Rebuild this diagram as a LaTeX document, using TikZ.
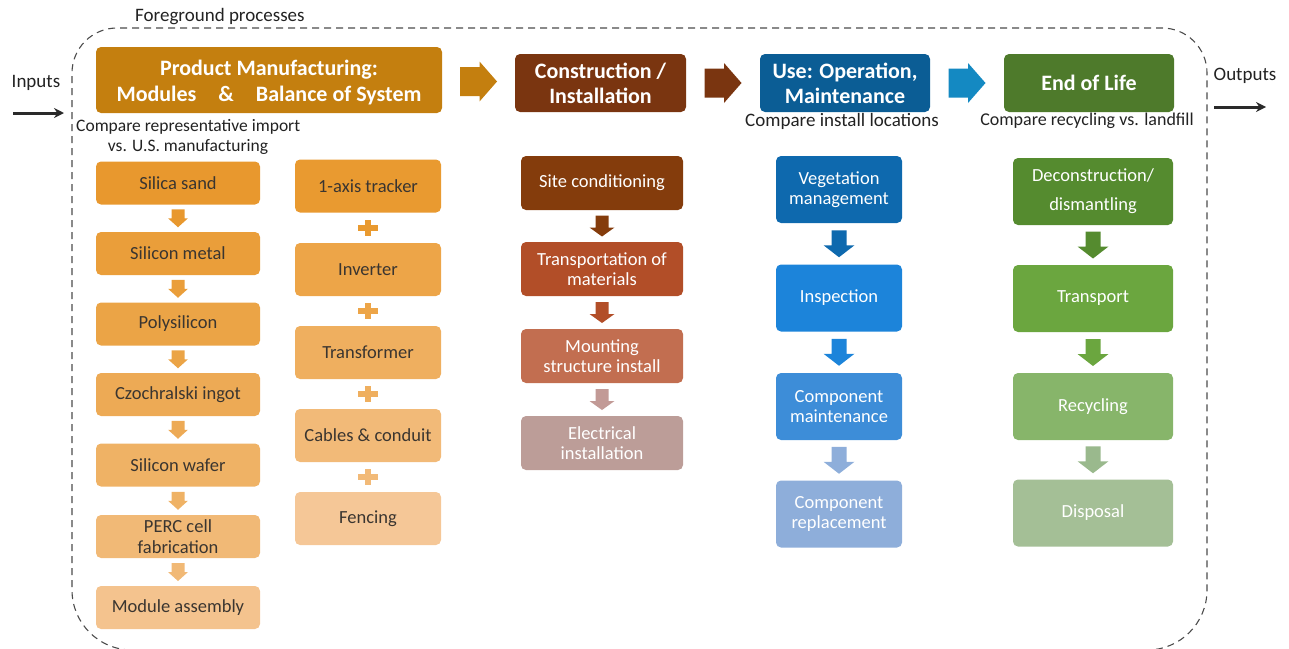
\documentclass[tikz,border=0pt]{standalone}
\usepackage{fontspec}
\setmainfont{Carlito}
\usetikzlibrary{calc,arrows.meta}
\definecolor{txtdark}{HTML}{3A3530}
\definecolor{lbl}{HTML}{222222}
\definecolor{arr}{HTML}{2A2A2A}
\definecolor{cPM}{HTML}{C47F0F}
\definecolor{cCI}{HTML}{7A3510}
\definecolor{cUse}{HTML}{0B5D95}
\definecolor{cUseA}{HTML}{1489C2}
\definecolor{cEoL}{HTML}{4E7A2B}
\definecolor{oA}{HTML}{E8982E}
\definecolor{oB}{HTML}{EA9E3A}
\definecolor{oC}{HTML}{EBA446}
\definecolor{oD}{HTML}{EDAA55}
\definecolor{oE}{HTML}{EFB265}
\definecolor{oF}{HTML}{F1B976}
\definecolor{oG}{HTML}{F4C38E}
\definecolor{pA}{HTML}{E99A30}
\definecolor{pB}{HTML}{EDA548}
\definecolor{pC}{HTML}{EFAF5F}
\definecolor{pD}{HTML}{F2BA78}
\definecolor{pE}{HTML}{F5C797}
\definecolor{bA}{HTML}{843C0C}
\definecolor{bB}{HTML}{B24E28}
\definecolor{bC}{HTML}{C26E50}
\definecolor{bD}{HTML}{BC9D98}
\definecolor{bDa}{HTML}{C29A96}
\definecolor{uA}{HTML}{0E69AE}
\definecolor{uB}{HTML}{1C84DA}
\definecolor{uC}{HTML}{3D8DD8}
\definecolor{uD}{HTML}{8EAEDA}
\definecolor{gA}{HTML}{558B2F}
\definecolor{gB}{HTML}{6BA63F}
\definecolor{gC}{HTML}{87B56A}
\definecolor{gD}{HTML}{A4BF96}
\definecolor{gDa}{HTML}{9AB98D}
\newcommand\dnarrow[7]{% top node, bottom node, half length, shaft half width, head half width, head length, colour
  \coordinate (m) at ($(#1.south)!0.5!(#2.north)$);
  \fill[#7] ($(m)+(-#4,-#3)$) -- ($(m)+(#4,-#3)$) -- ($(m)+(#4,#3-#6)$) -- ($(m)+(#5,#3-#6)$)
     -- ($(m)+(0,#3)$) -- ($(m)+(-#5,#3-#6)$) -- ($(m)+(-#4,#3-#6)$) -- cycle;}
\newcommand\rtarrow[3]{% left node, right node, colour
  \coordinate (m) at ($(#1.east)!0.5!(#2.west)$);
  \fill[#3] ($(m)+(-18.5,-14.5)$) -- ($(m)+(1,-14.5)$) -- ($(m)+(1,-20)$) -- ($(m)+(18.5,0)$)
     -- ($(m)+(1,20)$) -- ($(m)+(1,14.5)$) -- ($(m)+(-18.5,14.5)$) -- cycle;}
\newcommand\plusmark[3]{% upper node, lower node, colour
  \coordinate (m) at ($(#1.south)!0.5!(#2.north)$);
  \fill[#3] ($(m)+(-10,-2.8)$) rectangle ($(m)+(10,2.8)$);
  \fill[#3] ($(m)+(-2.8,-7.8)$) rectangle ($(m)+(2.8,7.8)$);}
\begin{document}
\begin{tikzpicture}[x=1pt,y=-1pt,
  hdr/.style={rectangle, rounded corners=5pt, inner sep=2pt, align=center,
    font=\fontsize{22}{25}\selectfont\bfseries, text=white, minimum height=58pt, minimum width=170pt},
  item/.style={rectangle, rounded corners=5pt, inner sep=2pt, align=center,
    font=\fontsize{18.5}{20.5}\selectfont},
  c1/.style={item, text=txtdark, minimum width=164pt, minimum height=43pt},
  c2/.style={item, text=txtdark, minimum width=146pt, minimum height=53pt},
  c3/.style={item, text=white, minimum width=162pt, minimum height=54pt},
  c4/.style={item, text=white, minimum width=126pt, minimum height=67pt},
  c5/.style={item, text=white, minimum width=160pt, minimum height=67pt},
  lab/.style={font=\fontsize{19}{22}\selectfont, text=lbl, inner sep=0pt},
  sub/.style={font=\fontsize{17.5}{20}\selectfont, text=lbl, inner sep=0pt},
  iolink/.style={draw=arr, line width=3pt, arrows={-Stealth[length=10pt,width=10pt]}},
  dashbox/.style={draw=black!70, line width=1.1pt, dash pattern=on 7pt off 5pt}]
\useasboundingbox (0,0) rectangle (1289,648);
\clip (0,0) rectangle (1289,648);

% foreground boundary
\draw[dashbox] (640,28) [rounded corners=45pt] -- (1207,28) -- (1207,300)
  [rounded corners=60pt] -- (1207,650) -- (72,650) -- (72,300)
  [rounded corners=45pt] -- (72,28) -- (640,28);
\node[lab, anchor=west] (fg) at (135,17) {Foreground processes};

% inputs / outputs
\node[lab] (inp) at (36,83) {Inputs};
\coordinate (inA) at (13,113);
\coordinate (inB) at (64,113);
\draw[iolink] (inA) -- (inB);
\node[lab] (outp) at (1245,76) {Outputs};
\coordinate (outA) at (1214,107);
\coordinate (outB) at (1266,107);
\draw[iolink] (outA) -- (outB);

% headers
\node[hdr, fill=cPM, minimum width=346pt, minimum height=66pt, font=\fontsize{22}{26}\selectfont\bfseries] (pm) at (269,80)
  {\rule{0pt}{20pt}Product Manufacturing:\\Modules\quad\&\quad Balance of System};
\node[hdr, fill=cCI, minimum width=171pt] (ci) at (600.5,83) {Construction /\\Installation};
\node[hdr, fill=cUse] (use) at (845,83) {Use: Operation,\\Maintenance};
\node[hdr, fill=cEoL] (eol) at (1089,83) {End of Life};
\rtarrow{pm}{ci}{cPM}
\rtarrow{ci}{use}{cCI}
\rtarrow{use}{eol}{cUseA}

% subtitles
\node[sub, anchor=west] (s1a) at (76,127) {Compare representative import};
\node[sub] (s1b) at (188,147) {vs. U.S. manufacturing};
\node[sub, font=\fontsize{19}{22}\selectfont] (s3) at (842,121) {Compare install locations};
\node[sub, font=\fontsize{18}{21}\selectfont] (s4) at (1087,121) {Compare recycling vs. landfill};

% column 1: modules
\node[c1, fill=oA] (m1) at (178,183) {Silica sand};
\node[c1, fill=oB] (m2) at (178,253.5) {Silicon metal};
\node[c1, fill=oC] (m3) at (178,324) {Polysilicon};
\node[c1, fill=oD] (m4) at (178,394.5) {Czochralski ingot};
\node[c1, fill=oE] (m5) at (178,465) {Silicon wafer};
\node[c1, fill=oF] (m6) at (178,536.5) {PERC cell\\fabrication};
\node[c1, fill=oG] (m7) at (178,607.5) {Module assembly};
\dnarrow{m1}{m2}{9}{6.5}{10}{9}{oA}
\dnarrow{m2}{m3}{9}{6.5}{10}{9}{oB}
\dnarrow{m3}{m4}{9}{6.5}{10}{9}{oC}
\dnarrow{m4}{m5}{9}{6.5}{10}{9}{oD}
\dnarrow{m5}{m6}{9}{6.5}{10}{9}{oE}
\dnarrow{m6}{m7}{9}{6.5}{10}{9}{oF}

% column 2: balance of system
\node[c2, fill=pA] (b1) at (368,186) {1-axis tracker};
\node[c2, fill=pB] (b2) at (368,269.5) {Inverter};
\node[c2, fill=pC] (b3) at (368,352.5) {Transformer};
\node[c2, fill=pD] (b4) at (368,435.5) {Cables \& conduit};
\node[c2, fill=pE] (b5) at (368,518.5) {Fencing};
\plusmark{b1}{b2}{pA}
\plusmark{b2}{b3}{pB}
\plusmark{b3}{b4}{pC}
\plusmark{b4}{b5}{pD}

% column 3: construction
\node[c3, fill=bA] (k1) at (602,183) {Site conditioning};
\node[c3, fill=bB] (k2) at (602,269) {Transportation of\\materials};
\node[c3, fill=bC] (k3) at (602,356) {Mounting\\structure install};
\node[c3, fill=bD] (k4) at (602,443) {Electrical\\installation};
\dnarrow{k1}{k2}{10.5}{6.5}{12.5}{9}{bA}
\dnarrow{k2}{k3}{10.5}{6.5}{12.5}{9}{bB}
\dnarrow{k3}{k4}{10.5}{6.5}{12.5}{9}{bDa}

% column 4: use
\node[c4, fill=uA] (u1) at (839,189.5) {Vegetation\\management};
\node[c4, fill=uB] (u2) at (839,298) {Inspection};
\node[c4, fill=uC] (u3) at (839,406.5) {Component\\maintenance};
\node[c4, fill=uD] (u4) at (839,514) {Component\\replacement};
\dnarrow{u1}{u2}{13.5}{7.5}{15.5}{12}{uA}
\dnarrow{u2}{u3}{13.5}{7.5}{15.5}{12}{uB}
\dnarrow{u3}{u4}{13.5}{7.5}{15.5}{12}{uD}

% column 5: end of life
\node[c5, fill=gA, font=\fontsize{18.5}{29}\selectfont] (e1) at (1093,191.5) {Deconstruction/\\dismantling};
\node[c5, fill=gB] (e2) at (1093,298.5) {Transport};
\node[c5, fill=gC] (e3) at (1093,406.5) {Recycling};
\node[c5, fill=gD] (e4) at (1093,513) {Disposal};
\dnarrow{e1}{e2}{13.5}{7.5}{15.5}{12}{gA}
\dnarrow{e2}{e3}{13.5}{7.5}{15.5}{12}{gB}
\dnarrow{e3}{e4}{13.5}{7.5}{15.5}{12}{gDa}
\end{tikzpicture}
\end{document}
